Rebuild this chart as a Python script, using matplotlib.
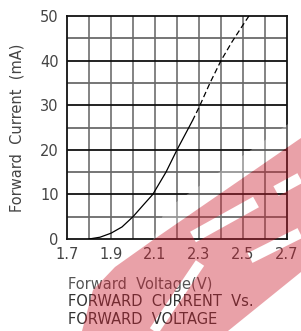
import matplotlib
matplotlib.use("Agg")
import numpy as np
import matplotlib.pyplot as plt
from matplotlib.path import Path
from matplotlib.patches import PathPatch, Polygon

# forward voltage (V) vs forward current (mA)
v_solid = [1.80, 1.85, 1.90, 1.95, 2.00, 2.05, 2.09, 2.15, 2.20, 2.27]
i_solid = [0.0, 0.4, 1.3, 2.7, 5.0, 7.8, 10.0, 15.0, 20.0, 26.5]
v_dash = [2.27, 2.30, 2.35, 2.40, 2.45, 2.50, 2.527]
i_dash = [26.5, 29.5, 35.0, 40.0, 44.2, 48.0, 50.0]

x_ticks = [1.7, 1.9, 2.1, 2.3, 2.5, 2.7]
y_ticks = [0, 10, 20, 30, 40, 50]

W, H = 301, 331
fig = plt.figure(figsize=(W / 100, H / 100), dpi=100)
ax = fig.add_axes([67 / W, 92 / H, 220 / W, 223 / H])

txt = "#444444"
ax.set_xlim(1.7, 2.7)
ax.set_ylim(0, 50)

# grid: grey verticals every 0.1 V, dark horizontals every 5 mA
for k in range(1, 10):
    ax.axvline(1.7 + k * 0.1, color="#7a7a7a", lw=1.3, zorder=1)
for k in range(1, 10):
    ax.axhline(k * 5, color="#111111" if k % 2 == 0 else "#6a6a6a", lw=1.3, zorder=1)

for s in ax.spines.values():
    s.set_color("#111111")
    s.set_linewidth(1.3)

ax.plot(v_solid, i_solid, color="black", lw=0.9, zorder=3)
ax.plot(v_dash, i_dash, color="black", lw=0.9, ls=(0, (4.5, 2.5)), zorder=3)

ax.set_xticks(x_ticks)
ax.set_yticks(y_ticks)
ax.set_xticklabels([f"{v:.1f}" for v in x_ticks])
ax.tick_params(length=0, labelsize=10.5, labelcolor=txt, pad=6)
ax.set_ylabel("Forward  Current  (mA)", fontsize=10.5, color=txt, labelpad=11)

fig.text(68 / W, 1 - 284 / H, "Forward  Voltage(V)", fontsize=10.5, color="#555555", va="center")
fig.text(68 / W, 1 - 302 / H, "FORWARD  CURRENT  Vs.", fontsize=10.5, color="#333333", va="center")
fig.text(68 / W, 1 - 320 / H, "FORWARD  VOLTAGE", fontsize=10.5, color="#333333", va="center")


# pink watermark (pixel coords, y down)
def px(pts):
    return [(x / W, 1 - y / H) for x, y in pts]


def stripe(p0, p1, t):
    p0, p1 = np.array(p0, float), np.array(p1, float)
    d = p1 - p0
    n = np.array([-d[1], d[0]]) / np.hypot(*d) * t / 2
    return [tuple(p0 + n), tuple(p1 + n), tuple(p1 - n), tuple(p0 - n)]


def ring(pts, ccw):
    a = np.array(pts)
    area = np.sum(a[:, 0] * np.roll(a[:, 1], -1) - np.roll(a[:, 0], -1) * a[:, 1])
    if (area > 0) != ccw:
        pts = pts[::-1]
    return pts


outer = [(301, 138), (153, 240), (115, 267), (93, 290), (82, 331),
         (228, 331), (301, 272)]
holes = [stripe((193, 237), (256, 202), 12),
         stripe((276, 191), (300, 178), 11),
         stripe((250, 258), (300, 233), 11),
         stripe((154, 331), (200, 263), 10)]

verts, codes = [], []
for i, r in enumerate([outer] + holes):
    r = ring(px(r), i == 0)
    verts += r + [r[0]]
    codes += [Path.MOVETO] + [Path.LINETO] * (len(r) - 1) + [Path.CLOSEPOLY]

fig.add_artist(PathPatch(Path(verts, codes), transform=fig.transFigure,
                         facecolor="#cc2030", alpha=0.42, edgecolor="none", zorder=10))

# faint white halo just above the pink band
halo = Polygon(px([(301, 115), (165, 210), (153, 240), (301, 138)]), closed=True,
               transform=fig.transFigure, facecolor="white", alpha=0.3,
               edgecolor="none", zorder=9)
fig.add_artist(halo)

plt.savefig("out.png", dpi=100)
